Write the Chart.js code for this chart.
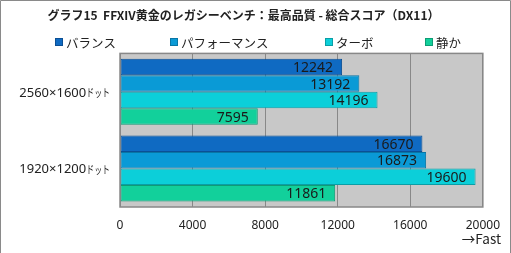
<!DOCTYPE html>
<html><head><meta charset="utf-8">
<script src="https://cdn.jsdelivr.net/npm/chart.js@4/dist/chart.umd.min.js"></script>
<style>html,body{margin:0;padding:0;background:#fff}#wrap{width:511px;height:253px;position:relative}</style>
</head><body><div id="wrap"><canvas id="c" width="511" height="253"></canvas></div>
<script>
const titleText = 'グラフ15  FFXIV黄金のレガシーベンチ：最高品質 - 総合スコア（DX11）';
const categories = ['2560×1600ドット', '1920×1200ドット'];
const seriesNames = ['バランス', 'パフォーマンス', 'ターボ', '静か'];
const balance = [12242, 16670];
const performance = [13192, 16873];
const turbo = [14196, 19600];
const quiet = [7595, 11861];
const xTicks = [0, 4000, 8000, 12000, 16000, 20000];

const fills = ['#0f6ac2', '#0a9ad6', '#0ccfd9', '#12d09b'];
const borders = ['#0b4f94', '#0876a6', '#0a9ea6', '#0e9c75'];
const FONT = '"Noto Sans CJK JP", "Noto Sans", sans-serif';
const legendX = [55, 170, 325, 425];

const seriesData = [balance, performance, turbo, quiet];
const datasets = seriesNames.map((n, i) => ({
  label: n, data: seriesData[i], backgroundColor: fills[i], borderColor: borders[i],
  borderWidth: 1, borderSkipped: false, categoryPercentage: 0.86, barPercentage: 1
}));

const deco = {
  id: 'deco',
  beforeDraw(chart) {
    const {ctx, chartArea: a} = chart;
    ctx.save();
    ctx.fillStyle = '#c8c8c8';
    ctx.fillRect(a.left, a.top, a.right - a.left, a.bottom - a.top);
    ctx.restore();
  },
  afterDatasetsDraw(chart) {
    const {ctx, chartArea: a} = chart;
    ctx.save();
    ctx.strokeStyle = '#888';
    ctx.lineWidth = 1.5;
    ctx.strokeRect(a.left, a.top, a.right - a.left, a.bottom - a.top);
    // value labels
    ctx.font = '14px "Noto Sans", sans-serif';
    ctx.fillStyle = '#1a1a1a';
    ctx.textAlign = 'right';
    ctx.textBaseline = 'middle';
    chart.data.datasets.forEach((ds, di) => {
      chart.getDatasetMeta(di).data.forEach((bar, i) => {
        ctx.fillText(String(ds.data[i]), bar.x - 9, bar.y + 1);
      });
    });
    // legend
    ctx.textAlign = 'left';
    ctx.font = '12.5px ' + FONT;
    chart.data.datasets.forEach((ds, di) => {
      const x = legendX[di], y = 42;
      ctx.fillStyle = ds.backgroundColor;
      ctx.fillRect(x, y - 4, 8, 8);
      ctx.strokeStyle = ds.borderColor;
      ctx.lineWidth = 1;
      ctx.strokeRect(x + 0.5, y - 3.5, 7, 7);
      ctx.fillStyle = '#222';
      ctx.fillText(ds.label, x + 11, y + 1);
    });
    // y labels (suffix condensed)
    const ys = chart.scales.y;
    chart.data.labels.forEach((lab, i) => {
      const y = ys.getPixelForTick(i);
      const suf = 'ドット';
      const main = lab.endsWith(suf) ? lab.slice(0, -suf.length) : lab;
      const tail = lab.endsWith(suf) ? suf : '';
      ctx.fillStyle = '#222';
      ctx.textAlign = 'left';
      ctx.font = '11px ' + FONT;
      const sx = 0.72;
      const tw = ctx.measureText(tail).width * sx;
      ctx.save();
      ctx.translate(110 - tw, 0);
      ctx.scale(sx, 1);
      ctx.fillText(tail, 0, y + 1);
      ctx.restore();
      ctx.textAlign = 'right';
      ctx.font = '13px "Noto Sans", sans-serif';
      ctx.fillText(main, 110 - tw, y + 1);
    });
    ctx.font = '13.5px ' + FONT;
    ctx.textAlign = 'right';
    ctx.fillStyle = '#222';
    ctx.fillText('→Fast', 501, 239);
    ctx.strokeStyle = '#8a8a8a';
    ctx.lineWidth = 1;
    ctx.beginPath();
    ctx.moveTo(0.5, 253); ctx.lineTo(0.5, 0.5); ctx.lineTo(510.5, 0.5);
    ctx.moveTo(510.5, 0.5); ctx.lineTo(510.5, 253);
    ctx.stroke();
    ctx.restore();
  }
};

new Chart(document.getElementById('c'), {
  type: 'bar',
  data: { labels: categories, datasets },
  options: {
    indexAxis: 'y', responsive: false, animation: false,
    layout: { padding: { left: 0, right: 24, top: 5, bottom: 0 } },
    plugins: {
      title: { display: true, text: titleText, color: '#222', font: { family: FONT, size: 12, weight: 'bold' }, padding: { top: 3, bottom: 31 } },
      legend: { display: false },
      tooltip: { enabled: false }
    },
    scales: {
      x: {
        min: 0, max: 20000,
        afterBuildTicks(s) { s.ticks = xTicks.map(v => ({ value: v })); },
        afterFit(s) { s.height = 46; },
        grid: { color: '#888', lineWidth: 1, drawTicks: false },
        border: { display: false },
        ticks: { color: '#222', font: { family: '"Noto Sans", sans-serif', size: 12 }, padding: 11, maxRotation: 0, callback: v => String(v) }
      },
      y: {
        afterFit(s) { s.width = 120; },
        grid: { display: false },
        border: { display: false },
        ticks: { display: false }
      }
    }
  },
  plugins: [deco]
});
</script></body></html>
